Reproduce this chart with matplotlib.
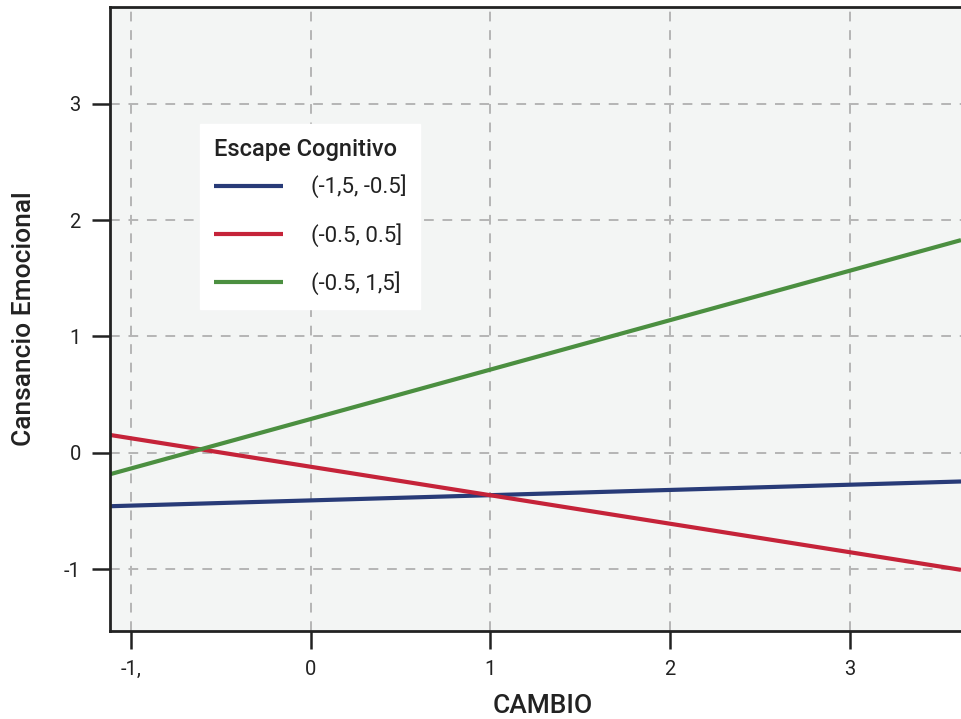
import matplotlib
matplotlib.use("Agg")
import matplotlib.pyplot as plt

plt.rcParams['font.family'] = ['Roboto', 'DejaVu Sans']

# Data
cambio = [-1.12, 3.62]
series_labels = ["(-1,5, -0.5]", "(-0.5, 0.5]", "(-0.5, 1,5]"]
blue_vals = [-0.460, -0.247]
red_vals = [0.154, -1.007]
green_vals = [-0.186, 1.829]
x_ticks = [-1, 0, 1, 2, 3]
x_ticklabels = ["-1,", "0", "1", "2", "3"]
y_ticks = [-1, 0, 1, 2, 3]
y_ticklabels = ["-1", "0", "1", "2", "3"]

colors = ["#283b78", "#c52339", "#4b8f40"]

fig = plt.figure(figsize=(9.61, 7.19), dpi=100)
ax = fig.add_axes([110/961, 88/719, 1 - 110/961, 624/719])
ax.set_facecolor("#f3f5f4")

for vals, lab, c in zip([blue_vals, red_vals, green_vals], series_labels, colors):
    ax.plot(cambio, vals, color=c, lw=3.0, label=lab, solid_capstyle='butt')

ax.set_xlim(-1.117, 3.62)
ax.set_ylim(-1.533, 3.834)
ax.set_xticks(x_ticks)
ax.set_xticklabels(x_ticklabels)
ax.set_yticks(y_ticks)
ax.set_yticklabels(y_ticklabels)

ax.grid(True, color="#b5b5b5", lw=1.4, linestyle=(0, (5, 4.5)))
ax.set_axisbelow(True)

for s in ['left', 'bottom', 'top']:
    ax.spines[s].set_linewidth(2.0)
    ax.spines[s].set_color("#222222")
ax.spines['right'].set_visible(False)

ax.tick_params(axis='both', direction='out', length=13, width=1.8, color="#222222",
               labelsize=14.5, labelcolor="#222222", pad=8)

ax.set_xlabel("CAMBIO", fontsize=19, fontweight=500, color="#222222", va='center')
ax.xaxis.set_label_coords(0.508, -0.1202)
ax.set_ylabel("Cansancio Emocional", fontsize=19, fontweight=500, color="#222222", va='center')
ax.yaxis.set_label_coords(-0.101, 0.5)

leg = ax.legend(loc='upper left', bbox_to_anchor=(0.1058, 0.8125), borderaxespad=0,
                title="Escape Cognitivo", fontsize=16, title_fontsize=17,
                frameon=True, fancybox=False, edgecolor='white', facecolor='white',
                framealpha=1.0, handlelength=3.1, handletextpad=1.26, labelspacing=1.11,
                borderpad=0.62, alignment='left')
leg._legend_box.sep = 10.0
leg.get_title().set_fontweight(500)
leg.get_title().set_color("#222222")
for t in leg.get_texts():
    t.set_color("#222222")

fig.savefig("out.png", dpi=100)
